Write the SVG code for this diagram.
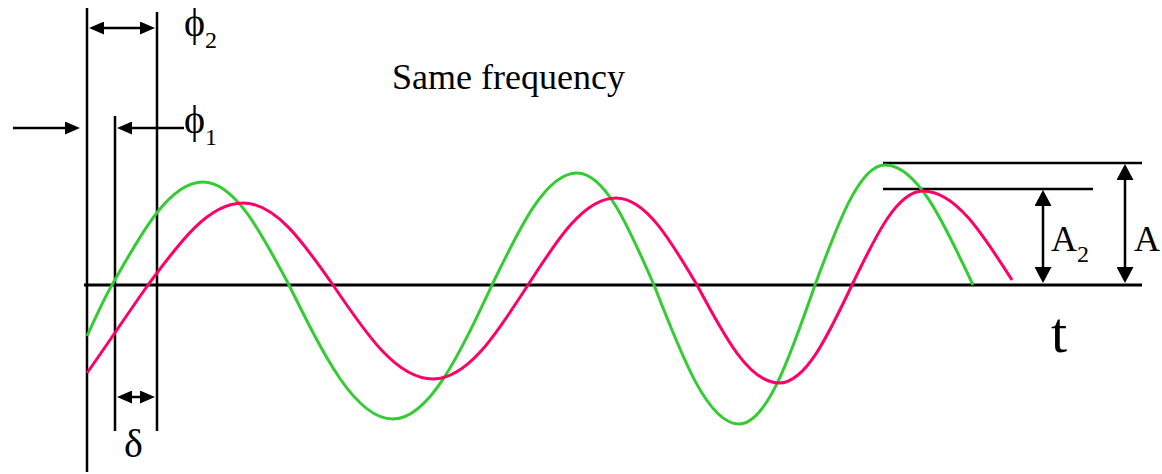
<svg xmlns="http://www.w3.org/2000/svg" width="1162" height="474" viewBox="0 0 1162 474">
<style>
.ln{stroke:#000;stroke-width:2.5;fill:none}
.ax{stroke:#000;stroke-width:3;fill:none}
.ar{stroke:#000;stroke-width:2.5;fill:none;marker-end:url(#ah)}
.ar2{stroke:#000;stroke-width:2.5;fill:none;marker-start:url(#ah);marker-end:url(#ah)}
.arb{stroke:#000;stroke-width:2.5;fill:none;marker-start:url(#ahb);marker-end:url(#ahb)}
.g{stroke:#33cc33;stroke-width:3;fill:none}
.p{stroke:#ff0066;stroke-width:3;fill:none}
.tx{font-family:'Liberation Serif','DejaVu Serif',serif;fill:#000}
</style>
<defs>
<marker id="ah" viewBox="0 0 15 13" refX="11" refY="6.5" markerWidth="15" markerHeight="13" markerUnits="userSpaceOnUse" orient="auto-start-reverse"><path d="M0,0 L15,6.5 L0,13 z" fill="#000"/></marker>
<marker id="ahb" viewBox="0 0 16 17" refX="12" refY="8.5" markerWidth="16" markerHeight="17" markerUnits="userSpaceOnUse" orient="auto-start-reverse"><path d="M0,0 L16,8.5 L0,17 z" fill="#000"/></marker>
</defs>
<g id="axis">
<line class="ax" x1="84" y1="285" x2="1142" y2="285"/>
<line class="ln" x1="87" y1="8" x2="87" y2="472"/>
<line class="ln" x1="115" y1="116" x2="115" y2="431"/>
<line class="ln" x1="157" y1="12" x2="157" y2="431"/>
<line class="ln" x1="883" y1="163" x2="1142" y2="163"/>
<line class="ln" x1="883" y1="189" x2="1093" y2="189"/>
</g>
<g id="wave-green">
<path class="g" d="M87,336 C95.5,318 103,300.5 112,285 C142.4,230.9 169.9,182 203,182 C234.3,182 260.3,230.9 289,285 C323.8,355.4 355.2,419 393,419 C429,419 458.9,355.4 492,285 C520.4,226.2 546.1,173 577,173 C605,173 628.3,226.2 654,285 C682.4,358 708.1,424 739,424 C766.6,424 789.6,358 815,285 C838.4,222 859.6,165 885,165 C917,165 943.6,222 973,285"/>
</g>
<g id="wave-pink">
<path class="p" d="M87,373 C107,345 128,313 148,285 C179.8,241.9 208.5,203 243,203 C275.7,203 302.9,241.9 333,285 C366.4,334.4 396.7,379 433,379 C467.5,379 496.2,334.4 528,285 C557.4,239.3 584,198 616,198 C645.4,198 669.9,239.3 697,285 C724.4,336.5 749.2,383 779,383 C805.5,383 827.6,336.5 852,285 C875.7,235.6 897.2,191 923,191 C955.3,191 982.2,233.3 1012,280"/>
</g>
<g id="connectors">
<line class="ar2" x1="93" y1="28" x2="151" y2="28"/>
<line class="ar" x1="13" y1="128" x2="76" y2="128"/>
<line class="ar" x1="184" y1="128" x2="121" y2="128"/>
<line class="ar2" x1="121" y1="397" x2="151" y2="397"/>
<line class="arb" x1="1043" y1="194" x2="1043" y2="279"/>
<line class="arb" x1="1125" y1="168" x2="1125" y2="279"/>
</g>
<g id="label-title"><text class="tx" x="392" y="89" font-size="36">Same frequency</text></g>
<g id="label-phi2"><text class="tx" x="184" y="36" font-size="40">ϕ<tspan font-size="24" dy="12">2</tspan></text></g>
<g id="label-phi1"><text class="tx" x="184" y="133" font-size="40">ϕ<tspan font-size="24" dy="12">1</tspan></text></g>
<g id="label-delta"><text class="tx" x="124" y="457" font-size="40">δ</text></g>
<g id="label-A2"><text class="tx" x="1051" y="251" font-size="36">A<tspan font-size="24" dy="11">2</tspan></text></g>
<g id="label-A"><text class="tx" x="1134" y="251" font-size="36">A</text></g>
<g id="label-t"><text class="tx" x="1051" y="352" font-size="58">t</text></g>
</svg>
